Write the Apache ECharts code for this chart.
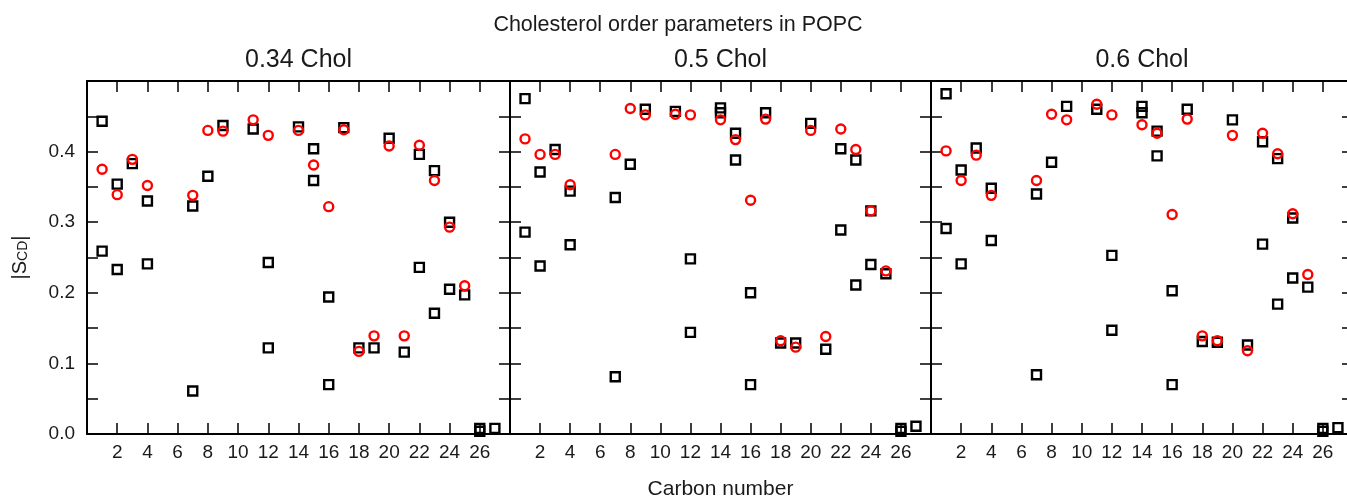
<!DOCTYPE html>
<html>
<head>
<meta charset="utf-8">
<script src="https://cdn.jsdelivr.net/npm/echarts@6/dist/echarts.min.js"></script>
<style>
html,body{margin:0;padding:0;background:#fff;}
#chart{width:1347px;height:499px;}
</style>
</head>
<body>
<div id="chart"></div>
<script>
// ---- data ----
const panelTitles = ['0.34 Chol', '0.5 Chol', '0.6 Chol'];
const xTickLabels = [2, 4, 6, 8, 10, 12, 14, 16, 18, 20, 22, 24, 26];
const yTickLabels = ['0.0', '0.1', '0.2', '0.3', '0.4'];

// black squares (carbon number, |S_CD|)
const blackCarbons1 = [1,1,2,2,3,4,4,7,7,8,9,11,12,12,14,15,15,16,16,17,18,19,20,21,22,22,23,23,24,24,25,26,26,27];
const blackValues1  = [0.443,0.259,0.354,0.233,0.383,0.330,0.241,0.323,0.061,0.365,0.437,0.432,0.243,0.122,0.435,0.404,0.359,0.194,0.070,0.434,0.122,0.122,0.419,0.116,0.396,0.236,0.373,0.171,0.300,0.205,0.197,0.004,0.008,0.008];

const blackCarbons2 = [1,1,2,2,3,4,4,7,7,8,9,11,12,12,14,14,15,15,16,16,17,18,19,20,21,22,22,23,23,24,24,25,26,26,27];
const blackValues2  = [0.475,0.286,0.371,0.238,0.403,0.344,0.268,0.335,0.081,0.382,0.460,0.457,0.248,0.144,0.462,0.455,0.426,0.388,0.200,0.070,0.455,0.129,0.129,0.440,0.120,0.404,0.289,0.388,0.211,0.316,0.240,0.227,0.004,0.008,0.011];

const blackCarbons3 = [1,1,2,2,3,4,4,7,7,8,9,11,12,12,14,14,15,15,16,16,17,18,19,20,21,22,22,23,23,24,24,25,26,26,27];
const blackValues3  = [0.482,0.291,0.374,0.241,0.405,0.348,0.274,0.340,0.084,0.385,0.464,0.460,0.253,0.147,0.464,0.455,0.429,0.394,0.203,0.070,0.460,0.131,0.130,0.445,0.126,0.414,0.269,0.390,0.184,0.306,0.221,0.208,0.004,0.008,0.009];

// red circles
const redCarbons = [1,2,3,4,7,8,9,11,12,14,15,16,17,18,19,20,21,22,23,24,25];
const redValues1 = [0.375,0.339,0.389,0.352,0.338,0.430,0.429,0.445,0.423,0.430,0.381,0.322,0.431,0.117,0.139,0.408,0.139,0.409,0.359,0.293,0.210];
const redValues2 = [0.418,0.396,0.396,0.353,0.396,0.461,0.452,0.453,0.452,0.445,0.417,0.331,0.446,0.132,0.123,0.430,0.138,0.432,0.403,0.316,0.231];
const redValues3 = [0.401,0.359,0.395,0.338,0.359,0.453,0.445,0.467,0.452,0.438,0.426,0.311,0.446,0.139,0.132,0.423,0.118,0.426,0.397,0.312,0.226];

const blackSets = [[blackCarbons1, blackValues1], [blackCarbons2, blackValues2], [blackCarbons3, blackValues3]];
const redSets = [redValues1, redValues2, redValues3];

// ---- chart ----
const FONT = "'Liberation Sans', Arial, Helvetica, sans-serif";
const TXT = '#1a1a1a';
const grids = [
  {left: 87, top: 81, width: 423, height: 353},
  {left: 510, top: 81, width: 421, height: 353},
  {left: 931, top: 81, width: 422, height: 353}
];

const zip = (xs, ys) => xs.map((x, i) => [x, ys[i]]);

const xAxes = [], yAxes = [], series = [];
grids.forEach((g, i) => {
  const common = {
    gridIndex: i, type: 'value',
    axisLine: {show: true, onZero: false, lineStyle: {color: '#000', width: 2}},
    axisTick: {show: true, inside: true, length: 11, lineStyle: {color: '#000', width: 1.5}},
    splitLine: {show: false}
  };
  xAxes.push(Object.assign({}, common, {
    position: 'bottom', min: 0, max: 28, interval: 2,
    axisLabel: {show: true, fontSize: 19, color: TXT, fontFamily: FONT, margin: 9,
      formatter: v => (xTickLabels.indexOf(v) >= 0 ? String(v) : '')},
    name: i === 1 ? 'Carbon number' : '',
    nameLocation: 'middle', nameGap: 45,
    nameTextStyle: {fontSize: 21, color: TXT, fontFamily: FONT}
  }));
  xAxes.push(Object.assign({}, common, {
    position: 'top', min: 0, max: 28, interval: 2, axisLabel: {show: false}
  }));
  yAxes.push(Object.assign({}, common, {
    position: 'left', min: 0, max: 0.5, interval: 0.05,
    axisLabel: {show: i === 0, fontSize: 19, color: TXT, fontFamily: FONT, margin: 12,
      formatter: v => {
        const k = Math.round(v * 100);
        if (k % 10 !== 0) return '';
        const s = (k / 100).toFixed(1);
        return yTickLabels.indexOf(s) >= 0 ? s : '';
      }},
    name: i === 0 ? '|S{sub|CD}|' : '',
    nameLocation: 'middle', nameGap: 57, nameRotate: 90,
    nameTextStyle: {fontSize: 20, color: TXT, fontFamily: FONT,
      rich: {sub: {fontSize: 14, color: TXT, fontFamily: FONT, verticalAlign: 'bottom', padding: [6, 0, 0, 0]}}}
  }));
  yAxes.push(Object.assign({}, common, {
    position: 'right', min: 0, max: 0.5, interval: 0.05, axisLabel: {show: false}
  }));
  series.push({
    type: 'scatter', xAxisIndex: 2 * i, yAxisIndex: 2 * i,
    data: zip(blackSets[i][0], blackSets[i][1]),
    symbol: 'rect', symbolSize: 9,
    itemStyle: {color: 'rgba(0,0,0,0)', borderColor: '#000', borderWidth: 2.4, opacity: 1},
    silent: true, z: 3
  });
  series.push({
    type: 'scatter', xAxisIndex: 2 * i, yAxisIndex: 2 * i,
    data: zip(redCarbons, redSets[i]),
    symbol: 'circle', symbolSize: 9,
    itemStyle: {color: 'rgba(0,0,0,0)', borderColor: '#ff0000', borderWidth: 2.4, opacity: 1},
    silent: true, z: 4
  });
});

const graphic = [
  {type: 'text', x: 678, y: 25, style: {text: 'Cholesterol order parameters in POPC', font: '21.5px ' + FONT, fill: TXT, textAlign: 'center', textVerticalAlign: 'middle'}}
];
grids.forEach((g, i) => {
  graphic.push({type: 'text', x: g.left + g.width / 2, y: 60,
    style: {text: panelTitles[i], font: '25px ' + FONT, fill: TXT, textAlign: 'center', textVerticalAlign: 'middle'}});
});

const chart = echarts.init(document.getElementById('chart'), null, {renderer: 'canvas'});
chart.setOption({
  animation: false,
  backgroundColor: '#fff',
  grid: grids.map(g => Object.assign({containLabel: false, outerBoundsMode: 'none'}, g)),
  xAxis: xAxes,
  yAxis: yAxes,
  series: series,
  graphic: graphic
});
</script>
</body>
</html>
